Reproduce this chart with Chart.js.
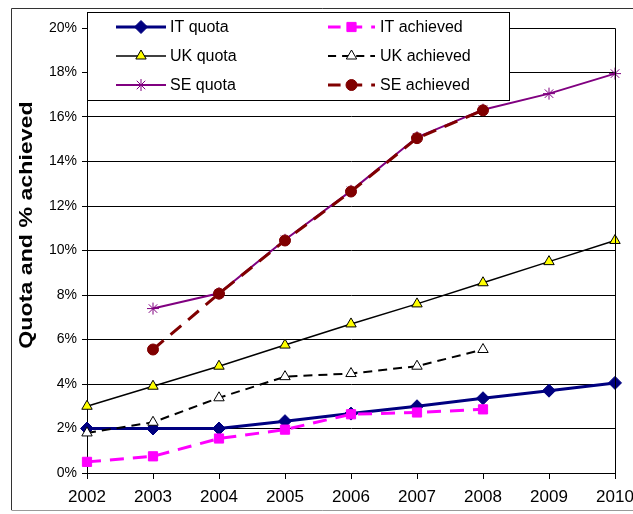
<!DOCTYPE html>
<html>
<head>
<meta charset="utf-8">
<script src="https://cdn.jsdelivr.net/npm/chart.js@4/dist/chart.umd.min.js"></script>
<style>
  body { margin: 0; background: #fff; }
  canvas { display: block; }
</style>
</head>
<body>
<canvas id="quotaChart" width="633" height="514"></canvas>
<script>
const years = ['2002', '2003', '2004', '2005', '2006', '2007', '2008', '2009', '2010'];
const yTicks = [0, 2, 4, 6, 8, 10, 12, 14, 16, 18, 20];
const yTitle = 'Quota and % achieved';

// values in percent
const itQuota = [2.0, 2.0, 2.0, 2.33, 2.67, 3.0, 3.36, 3.7, 4.05];
const itAchieved = [0.5, 0.75, 1.55, 1.95, 2.64, 2.72, 2.86, null, null];
const ukQuota = [3.0, 3.9, 4.8, 5.75, 6.7, 7.6, 8.55, 9.5, 10.45];
const ukAchieved = [1.8, 2.28, 3.38, 4.33, 4.47, 4.8, 5.55, null, null];
const seQuota = [null, 7.39, 8.08, 10.48, 12.68, 15.09, 16.33, 17.05, 17.95];
const seAchieved = [null, 5.55, 8.06, 10.45, 12.65, 15.05, 16.3, null, null];

const series = [
    { label: 'IT quota', data: itQuota, color: '#000080', width: 3, dash: [], style: 'rectRot', radius: 6.5, fill: '#000080', stroke: '#000080' },
    { label: 'IT achieved', data: itAchieved, color: '#FF00FF', width: 3, dash: [14, 9], style: 'rect', radius: 6.5, fill: '#FF00FF', stroke: '#FF00FF' },
    { label: 'UK quota', data: ukQuota, color: '#000000', width: 1.5, dash: [], style: 'triangle', radius: 6, fill: '#FFFF00', stroke: '#000000' },
    { label: 'UK achieved', data: ukAchieved, color: '#000000', width: 2, dash: [9, 6], style: 'triangle', radius: 6, fill: '#FFFFFF', stroke: '#000000' },
    { label: 'SE quota', data: seQuota, color: '#800080', width: 2, dash: [], style: 'star', radius: 6, fill: '#800080', stroke: '#800080' },
    { label: 'SE achieved', data: seAchieved, color: '#800000', width: 3, dash: [14, 9], style: 'circle', radius: 5.5, fill: '#800000', stroke: '#800000' }
];

const datasets = series.map((s, i) => ({
    label: s.label,
    data: s.data,
    borderColor: s.color,
    borderWidth: s.width,
    borderDash: s.dash,
    pointStyle: s.style,
    pointRadius: s.radius,
    pointBackgroundColor: s.fill,
    pointBorderColor: s.stroke,
    pointBorderWidth: 1,
    tension: 0,
    order: series.length - i // later series on top
}));

// frame around the whole picture, plot border and y title
const framePlugin = {
    id: 'frame',
    beforeDraw(chart) {
        const ctx = chart.ctx;
        ctx.save();
        ctx.fillStyle = '#fff';
        ctx.fillRect(0, 0, chart.width, chart.height);
        ctx.lineWidth = 1;
        ctx.strokeStyle = '#333';
        ctx.beginPath();
        ctx.moveTo(11.5, 510);
        ctx.lineTo(11.5, 8.5);
        ctx.lineTo(chart.width, 8.5);
        ctx.stroke();
        ctx.strokeStyle = '#999';
        ctx.beginPath();
        ctx.moveTo(11.5, 510.5);
        ctx.lineTo(chart.width, 510.5);
        ctx.stroke();

        // axis title, a bit stretched like the original
        ctx.translate(27, 225);
        ctx.rotate(-Math.PI / 2);
        ctx.scale(1.22, 1);
        ctx.fillStyle = '#000';
        ctx.font = 'bold 19px "Liberation Sans", Arial, sans-serif';
        ctx.textAlign = 'center';
        ctx.textBaseline = 'middle';
        ctx.fillText(yTitle, 0, 0);
        ctx.restore();
    },
    afterDatasetsDraw(chart) {
        const a = chart.chartArea;
        const ctx = chart.ctx;
        ctx.save();
        ctx.strokeStyle = '#000';
        ctx.lineWidth = 1;
        ctx.beginPath();
        ctx.moveTo(a.left, Math.round(a.top) + 0.5);
        ctx.lineTo(Math.round(a.right) + 0.5, Math.round(a.top) + 0.5);
        ctx.lineTo(Math.round(a.right) + 0.5, a.bottom);
        ctx.stroke();
        ctx.restore();
    }
};

// two-column legend in a white box over the top of the plot
const legendBox = {
    id: 'legendBox',
    afterDraw(chart) {
        const ctx = chart.ctx;
        const bx = 87.5, by = 12.5, bw = 422, bh = 88;
        ctx.save();
        ctx.fillStyle = '#fff';
        ctx.fillRect(bx, by, bw, bh);
        ctx.strokeStyle = '#000';
        ctx.lineWidth = 1;
        ctx.strokeRect(bx, by, bw, bh);

        const rows = [27, 56, 85];
        const cols = [
            { x0: 116, x1: 166, tx: 170 },
            { x0: 328, x1: 375, tx: 380 }
        ];
        // column 1 = quotas, column 2 = achieved
        series.forEach((s, i) => {
            const col = cols[i % 2];
            const y = rows[Math.floor(i / 2)];
            ctx.save();
            ctx.strokeStyle = s.color;
            ctx.lineWidth = s.width;
            ctx.setLineDash(s.dash.length ? [s.dash[0] * 0.9, s.dash[1]] : []);
            ctx.beginPath();
            ctx.moveTo(col.x0, y);
            ctx.lineTo(col.x1, y);
            ctx.stroke();
            ctx.restore();

            ctx.save();
            ctx.fillStyle = s.fill;
            ctx.strokeStyle = s.stroke;
            ctx.lineWidth = 1;
            Chart.helpers.drawPoint(ctx, {
                pointStyle: s.style,
                radius: s.radius,
                rotation: 0,
                borderWidth: 1
            }, (col.x0 + col.x1) / 2, y);
            ctx.restore();

            ctx.fillStyle = '#000';
            ctx.font = '16px "Liberation Sans", Arial, sans-serif';
            ctx.textBaseline = 'middle';
            ctx.textAlign = 'left';
            ctx.fillText(s.label, col.tx, y + 1);
        });
        ctx.restore();
    }
};

const ctx = document.getElementById('quotaChart').getContext('2d');
const myChart = new Chart(ctx, {
    type: 'line',
    data: {
        labels: years,
        datasets: datasets
    },
    options: {
        responsive: false,
        animation: false,
        layout: {
            padding: { top: 28, right: 18, bottom: 0, left: 0 }
        },
        plugins: {
            legend: { display: false },
            tooltip: { enabled: false }
        },
        scales: {
            x: {
                offset: false,
                grid: {
                    drawOnChartArea: false,
                    drawTicks: true,
                    tickLength: 6,
                    color: '#000'
                },
                border: { color: '#000', width: 1 },
                ticks: {
                    color: '#000',
                    padding: 8,
                    maxRotation: 0,
                    font: { family: '"Liberation Sans", Arial, sans-serif', size: 17 }
                },
                afterFit(scale) {
                    scale.height = 41;
                    scale.paddingLeft = 0;
                    scale.paddingRight = 0;
                }
            },
            y: {
                min: 0,
                max: 20,
                afterBuildTicks(scale) {
                    scale.ticks = yTicks.map(v => ({ value: v }));
                },
                grid: {
                    color: '#000',
                    lineWidth: 1,
                    drawTicks: true,
                    tickLength: 5
                },
                border: { color: '#000', width: 1 },
                ticks: {
                    color: '#000',
                    padding: 5,
                    font: { family: '"Liberation Sans", Arial, sans-serif', size: 14 },
                    callback: v => v + '%'
                },
                afterFit(scale) {
                    scale.width = 87;
                }
            }
        }
    },
    plugins: [framePlugin, legendBox]
});
</script>
</body>
</html>
